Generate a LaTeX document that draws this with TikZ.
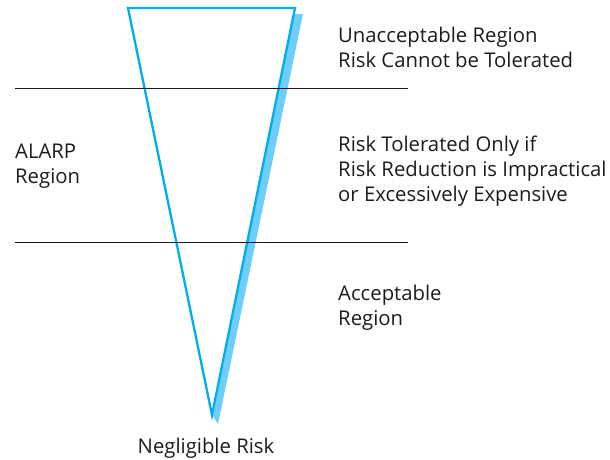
\documentclass[tikz,border=0pt]{standalone}
\usepackage{fontspec}
\setmainfont{Open Sans}
\definecolor{coneedge}{RGB}{0, 174, 239}
\definecolor{coneshadow}{RGB}{110, 206, 250}
\definecolor{ink}{RGB}{30, 27, 28}
\usetikzlibrary{positioning}
\tikzset{
  label text/.style={font=\fontsize{20.3}{25}\selectfont, text=ink, align=left, inner sep=0pt},
  divider/.style={draw=ink, line width=0.7pt}
}
\begin{document}
\begin{tikzpicture}[x=1pt, y=-1pt]
    \useasboundingbox (0,0) rectangle (610,459);
    % shadow band on the right edge
    \fill[coneshadow] (294,14) -- (303,14) -- (218,424) -- (213,416) -- cycle;
    % the cone
    \draw[coneedge, line width=2.3pt, line join=miter] (128,8) -- (295,8) -- (212,415) -- cycle;
    % region dividers
    \draw[divider] (15,88) -- (408,88);
    \draw[divider] (15,242) -- (408,242);
    % texts
    \node[label text, anchor=north west] (unacc) at (338,27) {Unacceptable Region\\Risk Cannot be Tolerated};
    \node[label text, anchor=north west] (alarp) at (338,136) {Risk Tolerated Only if\\Risk Reduction is Impractical\\or Excessively Expensive};
    \node[label text, anchor=north west] (acc) at (338,285) {Acceptable\\Region};
    \node[label text, anchor=north west] (alarpname) at (15,144) {ALARP\\Region};
    \node[label text, anchor=north] (negl) at (206,438) {Negligible Risk};
\end{tikzpicture}
\end{document}
